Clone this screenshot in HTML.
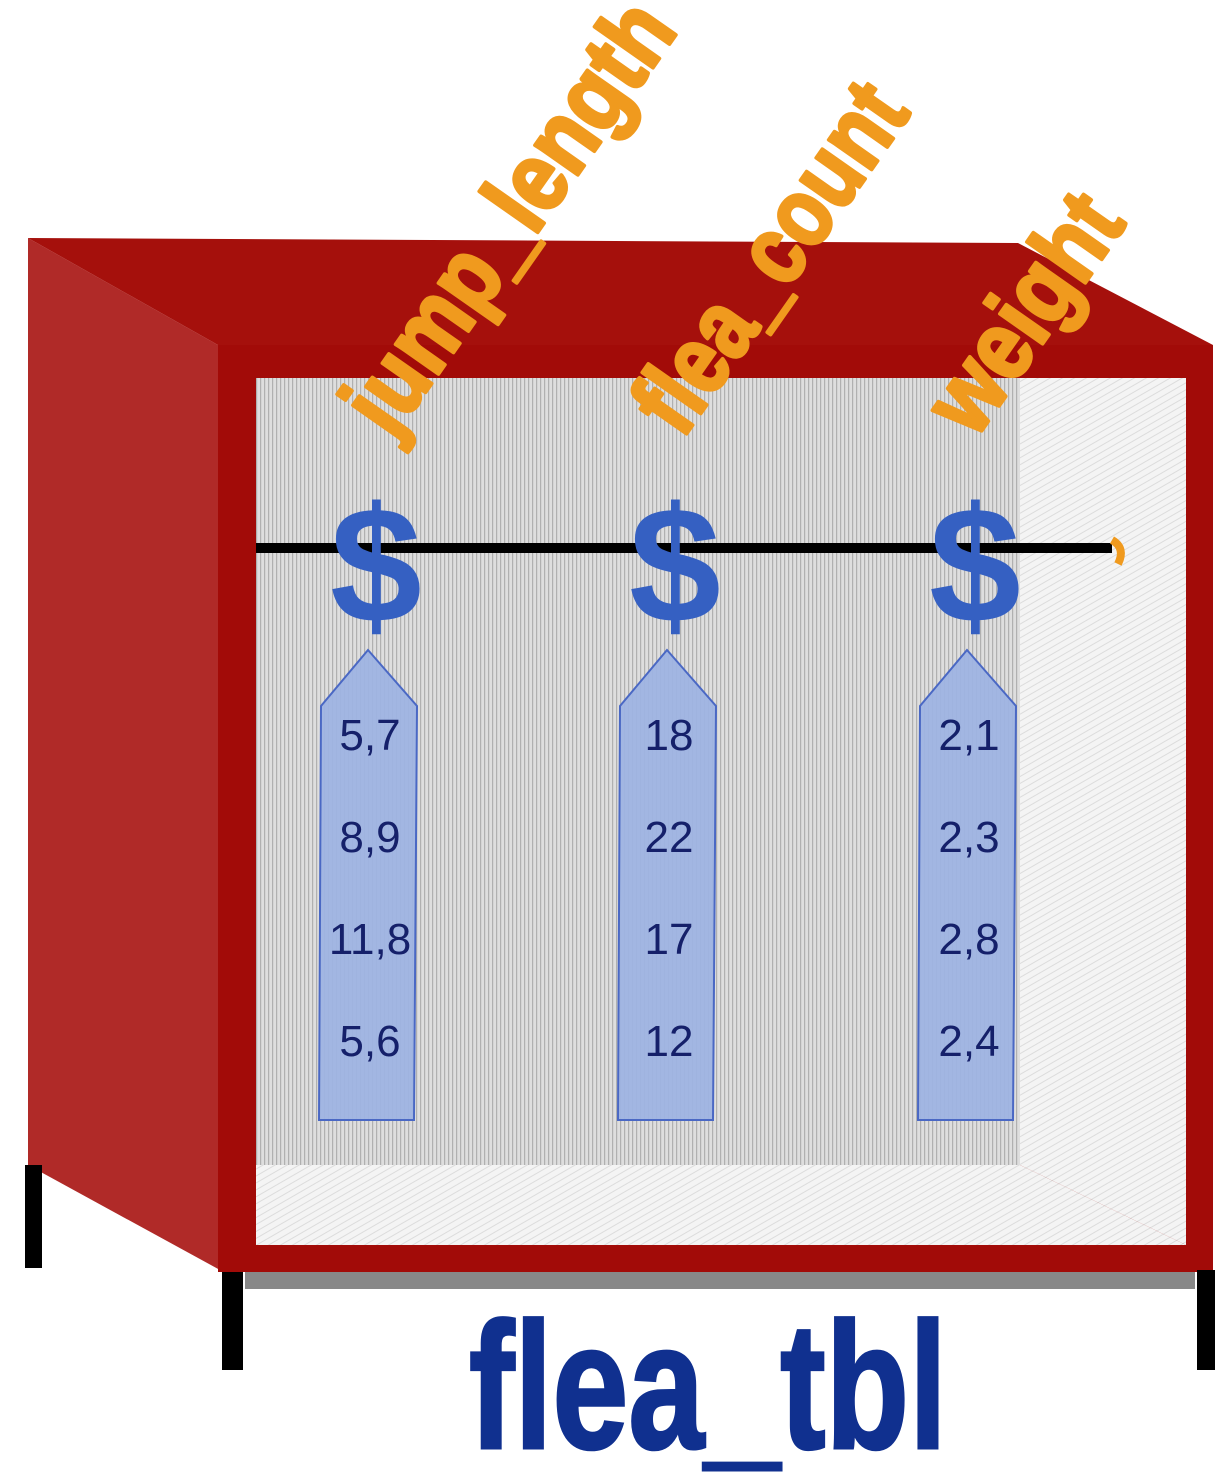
<!DOCTYPE html>
<html><head><meta charset="utf-8"><style>
html,body{margin:0;padding:0;background:#fff;}
svg{display:block;}
.lbl{font-family:"Liberation Sans Narrow","Liberation Sans",sans-serif;font-weight:bold;fill:#f09a1e;stroke:#f09a1e;stroke-width:4;stroke-linejoin:round;}
.num{font-family:"Liberation Sans Narrow","Liberation Sans",sans-serif;fill:#15206a;font-size:44px;text-anchor:middle;}
</style></head><body>
<svg id="chart" width="1220" height="1483" viewBox="0 0 1220 1483" xmlns="http://www.w3.org/2000/svg">
<defs>
<pattern id="stripes" width="4" height="10" patternUnits="userSpaceOnUse">
<rect width="4" height="10" fill="#dedede"/><rect width="1.2" height="10" fill="#b0b0b0"/>
</pattern>
<pattern id="diag" width="6" height="6" patternUnits="userSpaceOnUse" patternTransform="rotate(60)">
<rect width="6" height="6" fill="#f4f4f4"/><rect width="1" height="6" fill="#dcdcdc"/>
</pattern>
</defs>
<polygon points="28,238 218,345 220,1270 28,1165" fill="#b02a28"/>
<polygon points="28,238 1018,243 1213,345 218,345" fill="#a5100c"/>
<rect x="218" y="345" width="995" height="927" fill="#a20b08"/>
<rect x="256" y="378" width="764" height="787" fill="url(#stripes)"/>
<polygon points="1020,378 1186,378 1186,1245 1020,1165" fill="url(#diag)"/>
<polygon points="256,1165 1020,1165 1186,1245 256,1245" fill="url(#diag)"/>
<rect x="245" y="1272" width="950" height="17" fill="#888"/>
<rect x="25" y="1165" width="17" height="103" fill="#000"/>
<rect x="222" y="1272" width="21" height="98" fill="#000"/>
<rect x="1197" y="1270" width="18" height="100" fill="#000"/>
<line x1="256" y1="548" x2="1112" y2="548" stroke="#000" stroke-width="10"/>
<path d="M1112,540 Q1126,548 1118,564" stroke="#f09a1e" stroke-width="8" fill="none"/>
<g id="cols"></g>
<text x="708" y="1448" text-anchor="middle" textLength="478" lengthAdjust="spacingAndGlyphs" style="font-family:'Liberation Sans Narrow','Liberation Sans',sans-serif;font-weight:bold;font-size:180px;fill:#10308f;stroke:#10308f;stroke-width:3;">flea_tbl</text>
</svg>
<script>
const columns = ["jump_length", "flea_count", "weight"];
const colValues = [["5,7","8,9","11,8","5,6"],["18","22","17","12"],["2,1","2,3","2,8","2,4"]];
const ns="http://www.w3.org/2000/svg";
const g=document.getElementById('cols');
const cx=[368,667,967];
const labelStart=[[392,440,500],[682,440,400],[975,440,265]];
function mk(t,a){const e=document.createElementNS(ns,t);for(const k in a)e.setAttribute(k,a[k]);return e;}
columns.forEach((c,i)=>{
  const x=cx[i];
  const tag=mk('polygon',{points:`${x},650 ${x-47},706 ${x-49},1120 ${x+46},1120 ${x+49},706`,fill:'#9eb3e2',stroke:'#4a68c4','stroke-width':2,'fill-opacity':0.95});
  
  
  g.appendChild(tag);
  const d=mk('text',{x:x+8,y:622,'text-anchor':'middle','font-size':165,'font-weight':'bold','font-family':'Liberation Sans, sans-serif',fill:'#3560c2'});
  d.textContent='$';
  
  
  g.appendChild(d);
  colValues[i].forEach((v,j)=>{
    const t=mk('text',{x:x+2,y:750+j*102,class:'num'});
    t.textContent=v;
    
    
    g.appendChild(t);
  });
  const L=labelStart[i];
  const lb=mk('text',{x:0,y:0,class:'lbl','font-size':98,textLength:L[2],lengthAdjust:'spacingAndGlyphs',transform:`translate(${L[0]},${L[1]}) rotate(-55)`});
  lb.textContent=c;
  
  
  g.appendChild(lb);
});
</script>
</body></html>
